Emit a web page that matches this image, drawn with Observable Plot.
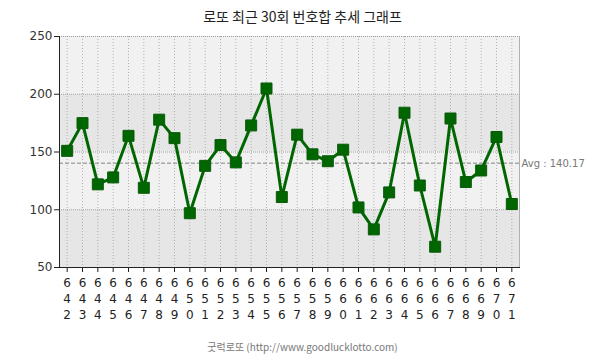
<!DOCTYPE html>
<html>
<head>
<meta charset="utf-8">
<script src="https://cdn.jsdelivr.net/npm/d3@7"></script>
<script src="https://cdn.jsdelivr.net/npm/@observablehq/plot@0.6"></script>
<style>
  html, body { margin: 0; padding: 0; background: #fff; }
  #wrap { width: 605px; font-family: "DejaVu Sans", "Noto Sans CJK KR", sans-serif; }
  #title { height: 28px; line-height: 32px; text-align: center; font-size: 14px; color: #222; font-family: "Noto Sans CJK KR", sans-serif; }
  #caption { text-align: center; font-size: 10px; color: #777; margin-top: 14px; font-family: "Noto Sans CJK KR", "DejaVu Sans", sans-serif; }
  svg { display: block; }
</style>
</head>
<body>
<div id="wrap">
  <div id="title">로또 최근 30회 번호합 추세 그래프</div>
  <div id="chart"></div>
  <div id="caption">굿럭로또 (http://www.goodlucklotto.com)</div>
</div>
<script>
const rounds = [642,643,644,645,646,647,648,649,650,651,652,653,654,655,656,657,658,659,660,661,662,663,664,665,666,667,668,669,670,671];
const sums = [151,175,122,128,164,119,178,162,97,138,156,141,173,205,111,165,148,142,152,102,83,115,184,121,68,179,124,134,163,105];
const average = 140.17;
const yTicks = [50,100,150,200,250];
const bandLow = [50,100,150,200];
const bandHigh = [100,150,200,250];
const bandFill = ["#e6e6e6","#f1f1f1","#e6e6e6","#f1f1f1"];

const data = rounds.map((r, i) => ({round: r, sum: sums[i]}));
const bands = bandLow.map((lo, i) => ({lo, hi: bandHigh[i], fill: bandFill[i]}));

const chart = Plot.plot({
  width: 605,
  height: 297,
  marginTop: 8,
  marginBottom: 58,
  marginLeft: 59,
  marginRight: 86,
  style: {fontFamily: "DejaVu Sans, sans-serif", fontSize: "11px", color: "#222", overflow: "visible"},
  x: {type: "point", domain: rounds, padding: 0.5, round: false},
  y: {domain: [50, 250]},
  marks: [
    Plot.rect(bands, {y1: "lo", y2: "hi", fill: "fill"}),
    Plot.ruleX(rounds, {x: d => d, stroke: "#b0b0b0", strokeDasharray: "1,2", strokeWidth: 1}),
    Plot.ruleY(yTicks.slice(1), {y: d => d, stroke: "#a0a0a0", strokeDasharray: "1,1", strokeWidth: 1}),
    Plot.frame({anchor: "right", stroke: "#b0b0b0", strokeDasharray: "1,1"}),
    Plot.ruleY([average], {stroke: "#a8a8a8", strokeWidth: 1.5, strokeDasharray: "4,2"}),
    Plot.text([`Avg : ${average}`], {frameAnchor: "right", y: [average], textAnchor: "start", dx: 2, fill: "#777", fontSize: 10}),
    Plot.axisY({ticks: yTicks, tickSize: 5, tickPadding: 2, stroke: "#222", fill: "#333", label: null, fontSize: 12}),
    Plot.axisX({tickSize: 5, tickPadding: 3, stroke: "#222", fill: "#222", label: null, fontSize: 12, lineHeight: 1.33, tickFormat: d => String(d).split("").join("\n")}),
    Plot.frame({anchor: "left", stroke: "#222"}),
    Plot.frame({anchor: "bottom", stroke: "#222"}),
    Plot.line(data, {x: "round", y: "sum", stroke: "#006600", strokeWidth: 3}),
    Plot.dot(data, {x: "round", y: "sum", symbol: "square", r: 6.2, fill: "#006600", stroke: "#0b5a0b", strokeWidth: 1})
  ]
});
document.getElementById("chart").appendChild(chart);
</script>
</body>
</html>
